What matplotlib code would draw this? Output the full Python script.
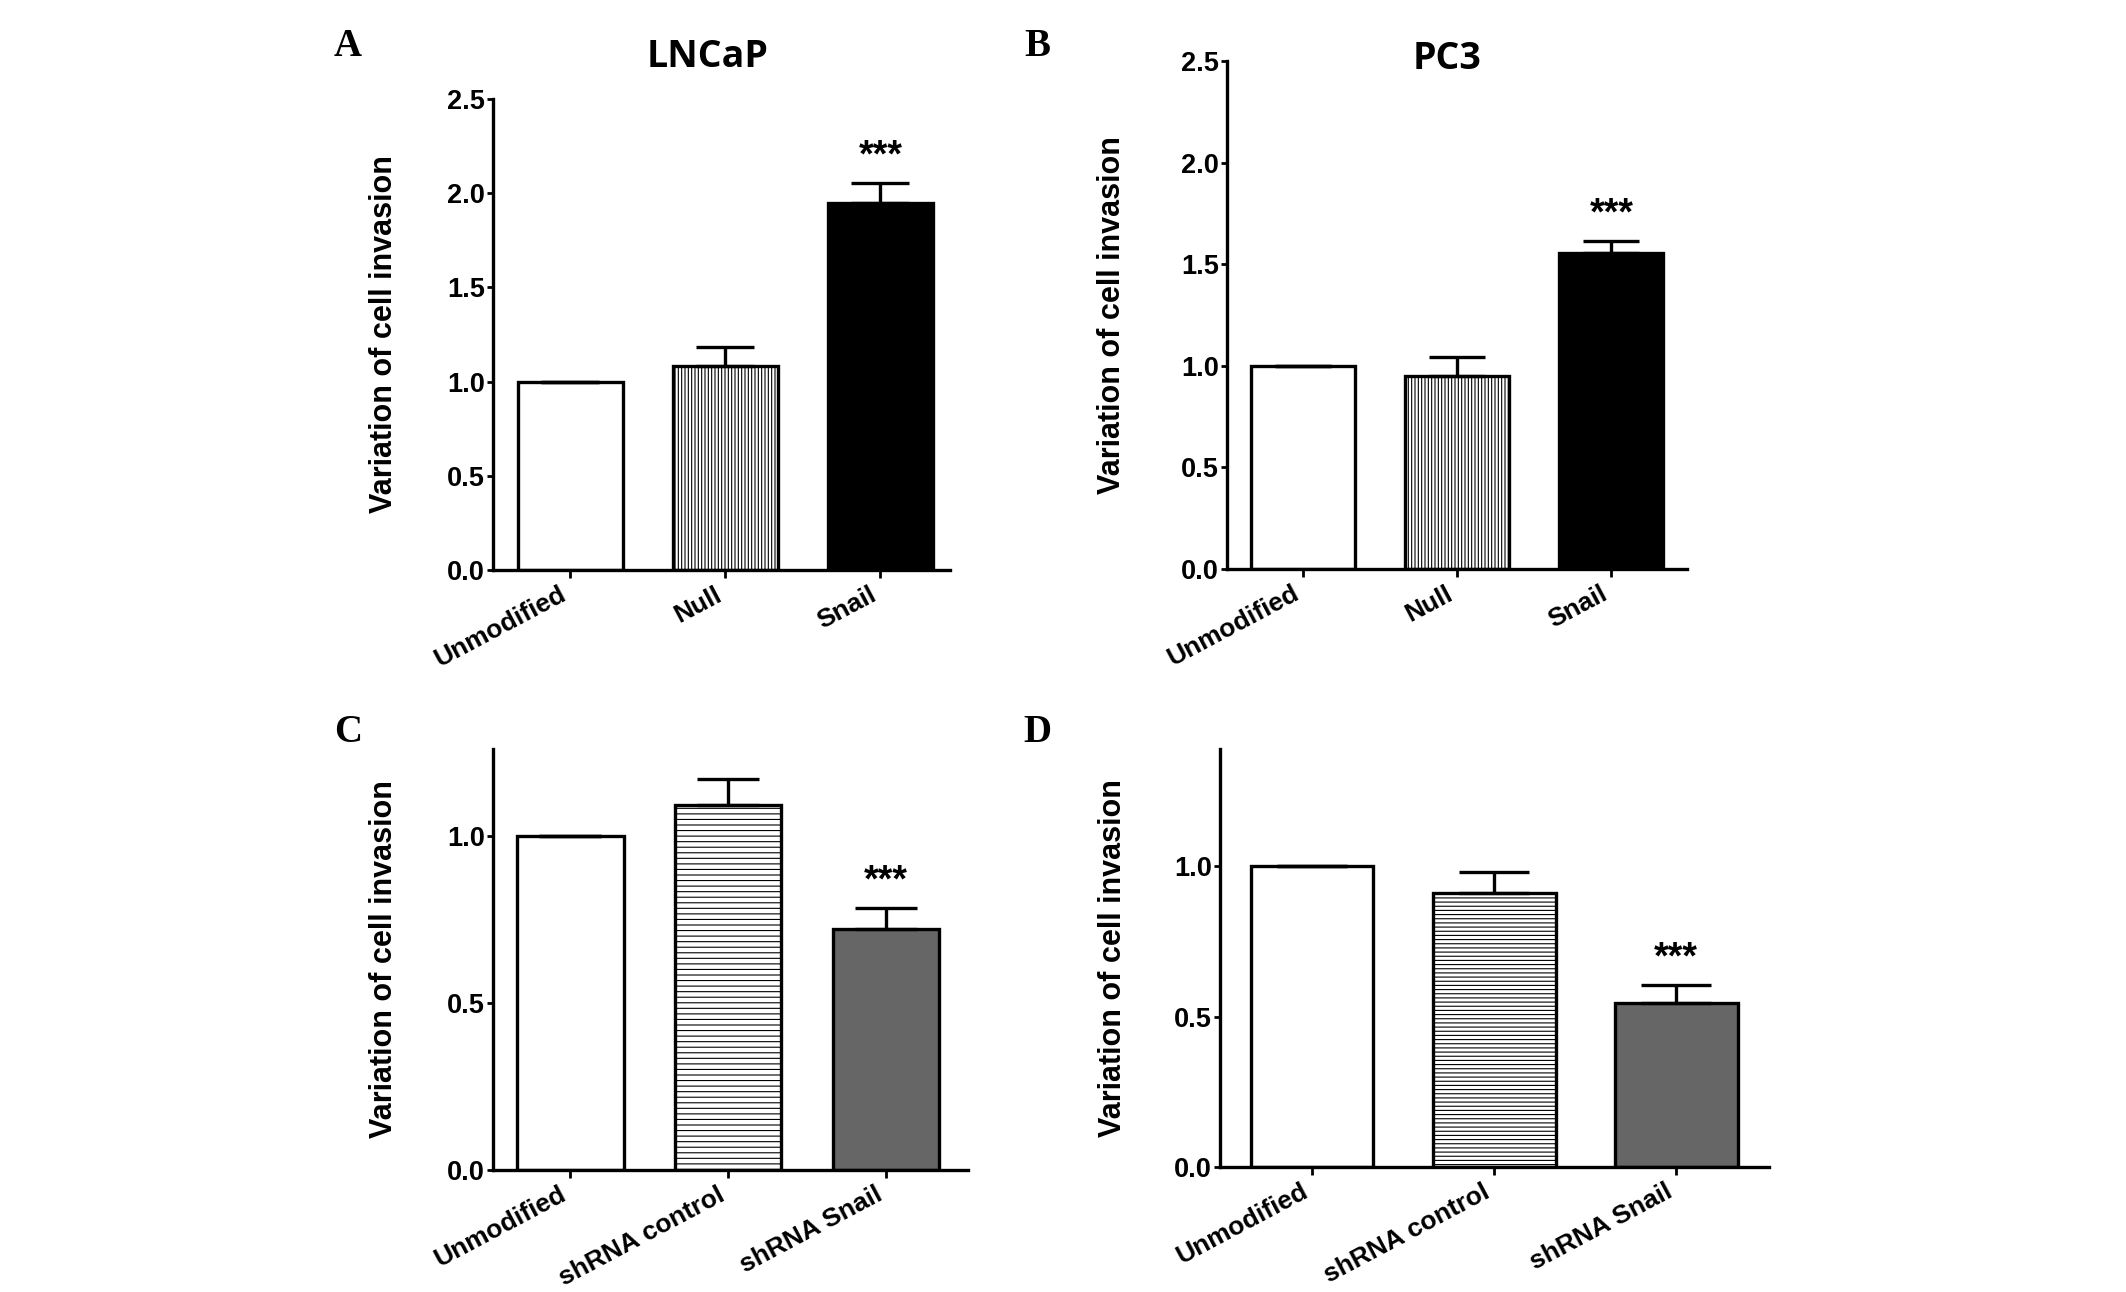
import matplotlib
matplotlib.use('Agg')
import matplotlib.pyplot as plt
import numpy as np

plt.rcParams['font.family'] = ['Liberation Sans', 'DejaVu Sans']
plt.rcParams['font.weight'] = 'bold'
plt.rcParams['hatch.linewidth'] = 0.8

# data
groups_top = ['Unmodified', 'Null', 'Snail']
groups_bottom = ['Unmodified', 'shRNA control', 'shRNA Snail']

lncap_mean = [1.0, 1.085, 1.95]
lncap_err = [0.0, 0.10, 0.105]
pc3_mean = [1.0, 0.949, 1.553]
pc3_err = [0.0, 0.093, 0.062]
lncap_sh_mean = [1.0, 1.095, 0.723]
lncap_sh_err = [0.0, 0.076, 0.063]
pc3_sh_mean = [1.0, 0.912, 0.547]
pc3_sh_err = [0.0, 0.068, 0.059]

stars = ['', '', '***']

fig = plt.figure(figsize=(21.26, 12.92), dpi=100)
W, H = 2126, 1292


def make_ax(l, r, b, t):
    return fig.add_axes([l / W, 1 - b / H, (r - l) / W, (b - t) / H])


def panel(ax, labels, means, errs, fills, hatches, ylim, yticks, xlim, cap, lab_x):
    x = np.arange(len(labels))
    ax.bar(x, means, width=0.675, color=fills, edgecolor='black',
           linewidth=2.4, hatch=hatches, zorder=2)
    ax.errorbar(x, means, yerr=[np.zeros(len(errs)), errs], fmt='none',
                ecolor='black', elinewidth=2.4, capsize=cap, capthick=2.4, zorder=3)
    for xi, m, e, s in zip(x, means, errs, stars):
        if s:
            ax.annotate(s, (xi, m + e), xytext=(0, 6), textcoords='offset points',
                        ha='center', va='bottom', fontsize=27, fontweight='bold')
    ax.set_xlim(*xlim)
    ax.set_ylim(*ylim)
    ax.set_yticks(yticks)
    ax.set_yticklabels(['%.1f' % v for v in yticks], fontsize=19.5, fontweight='bold')
    ax.set_xticks(x)
    ax.set_xticklabels(labels, rotation=28, ha='right', fontsize=19, fontweight='bold')
    for s in ['top', 'right']:
        ax.spines[s].set_visible(False)
    for s in ['left', 'bottom']:
        ax.spines[s].set_linewidth(2.4)
    ax.tick_params(axis='y', length=4, width=2, pad=2)
    ax.tick_params(axis='x', length=6, width=2, pad=3)
    ax.set_ylabel('Variation of cell invasion', fontsize=22, fontweight='bold')
    ax.yaxis.set_label_coords(lab_x, 0.5)


ax_a = make_ax(493, 950, 570, 99)
panel(ax_a, groups_top, lncap_mean, lncap_err, ['white', 'white', 'black'],
      ['', '|||||', ''], (0, 2.5), [0, 0.5, 1.0, 1.5, 2.0, 2.5], (-0.5, 2.45), 21, -0.206)

ax_b = make_ax(1227, 1687, 569, 61)
panel(ax_b, groups_top, pc3_mean, pc3_err, ['white', 'white', 'black'],
      ['', '|||||', ''], (0, 2.5), [0, 0.5, 1.0, 1.5, 2.0, 2.5], (-0.49, 2.49), 20.5, -0.217)

ax_c = make_ax(493, 968, 1170, 749)
panel(ax_c, groups_bottom, lncap_sh_mean, lncap_sh_err, ['white', 'white', '#666666'],
      ['', '---', ''], (0, 1.262), [0, 0.5, 1.0], (-0.49, 2.52), 22, -0.198)

ax_d = make_ax(1220, 1769, 1167, 749)
panel(ax_d, groups_bottom, pc3_sh_mean, pc3_sh_err, ['white', 'white', '#666666'],
      ['', '----', ''], (0, 1.39), [0, 0.5, 1.0], (-0.505, 2.51), 25, -0.168)

title_font = dict(family=['Open Sans', 'DejaVu Sans'], fontsize=27, fontweight='bold')
ax_a.text(0.47, 1.089, 'LNCaP', transform=ax_a.transAxes, ha='center', va='center', **title_font)
ax_b.text(0.478, 1.004, 'PC3', transform=ax_b.transAxes, ha='center', va='center', **title_font)

letter_font = dict(family=['Liberation Serif', 'DejaVu Serif'], fontsize=28, fontweight='bold',
                   ha='center', va='center')
fig.text(348 / W, 1 - 46 / H, 'A', **letter_font)
fig.text(1037 / W, 1 - 46 / H, 'B', **letter_font)
fig.text(348 / W, 1 - 733 / H, 'C', **letter_font)
fig.text(1037 / W, 1 - 733 / H, 'D', **letter_font)

fig.savefig('out.png', dpi=100, facecolor='white')
